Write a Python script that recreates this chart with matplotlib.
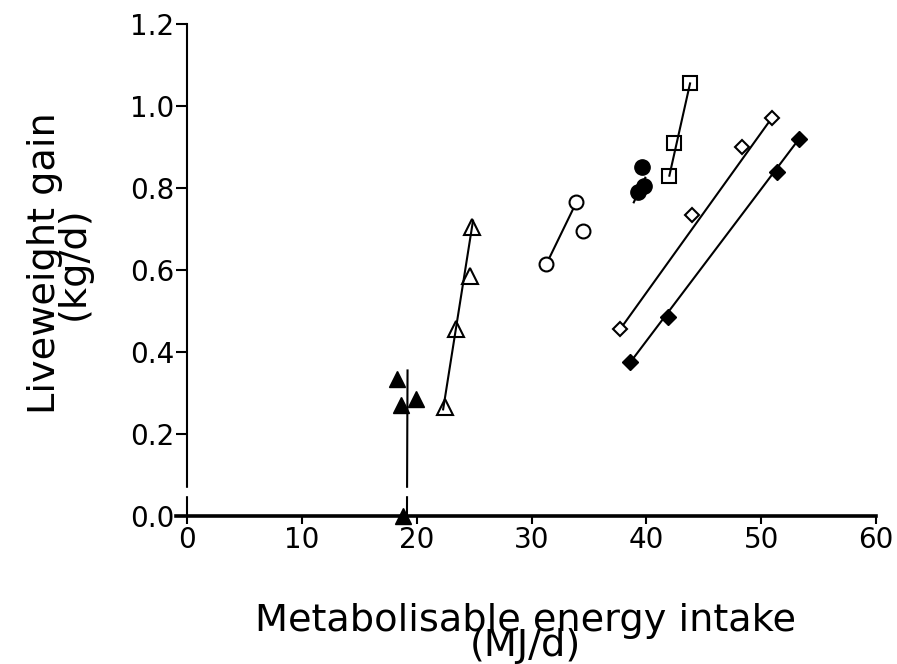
import matplotlib
matplotlib.use("Agg")
import matplotlib.pyplot as plt

# Filled triangles
ftri_x = [18.3, 18.6, 19.9, 18.8]
ftri_y = [0.335, 0.27, 0.285, 0.0]
ftri_line_x = [19.15, 19.2]
ftri_line_y = [0.0, 0.355]

# Open triangles
otri_x = [22.5, 23.4, 24.6, 24.8]
otri_y = [0.265, 0.455, 0.585, 0.705]
otri_line_x = [22.3, 24.9]
otri_line_y = [0.26, 0.72]

# Open circles
ocir_x = [31.3, 33.9, 34.5]
ocir_y = [0.615, 0.765, 0.695]
ocir_line_x = [31.3, 33.9]
ocir_line_y = [0.615, 0.765]

# Filled circles
fcir_x = [39.6, 39.3, 39.8]
fcir_y = [0.85, 0.79, 0.805]
fcir_line_x = [38.9, 39.9]
fcir_line_y = [0.765, 0.825]

# Open squares
osq_x = [42.0, 42.4, 43.8]
osq_y = [0.83, 0.91, 1.055]
osq_line_x = [42.0, 43.8]
osq_line_y = [0.83, 1.055]

# Open diamonds
odia_x = [37.7, 44.0, 48.3, 50.9]
odia_y = [0.455, 0.735, 0.90, 0.97]
odia_line_x = [37.7, 50.9]
odia_line_y = [0.455, 0.97]

# Filled diamonds
fdia_x = [38.6, 41.9, 51.4, 53.3]
fdia_y = [0.375, 0.485, 0.84, 0.92]
fdia_line_x = [38.6, 53.3]
fdia_line_y = [0.375, 0.92]

x_ticks = [0, 10, 20, 30, 40, 50, 60]
y_ticks = [0.0, 0.2, 0.4, 0.6, 0.8, 1.0, 1.2]

fig = plt.figure(figsize=(8.97, 6.64), dpi=100)
ax = fig.add_axes([0.1957, 0.2229, 0.781, 0.7410])

lw = 1.5
mew = 1.5
for lx, ly in [(ftri_line_x, ftri_line_y), (otri_line_x, otri_line_y),
               (ocir_line_x, ocir_line_y), (fcir_line_x, fcir_line_y),
               (osq_line_x, osq_line_y), (odia_line_x, odia_line_y),
               (fdia_line_x, fdia_line_y)]:
    ax.plot(lx, ly, color="black", lw=lw)

ax.plot(ftri_x, ftri_y, "^", color="black", ms=12, clip_on=False, zorder=4)
ax.plot(otri_x, otri_y, "^", mfc="none", mec="black", ms=11, mew=mew, zorder=4)
ax.plot(ocir_x, ocir_y, "o", mfc="white", mec="black", ms=10, mew=mew, zorder=4)
ax.plot(fcir_x, fcir_y, "o", color="black", ms=11, zorder=4)
ax.plot(osq_x, osq_y, "s", mfc="none", mec="black", ms=10.5, mew=mew, zorder=4)
ax.plot(odia_x, odia_y, "D", mfc="white", mec="black", ms=7.5, mew=mew, zorder=4)
ax.plot(fdia_x, fdia_y, "D", color="black", ms=8, zorder=4)

# axis break near zero
ax.axhspan(0.05, 0.068, color="white", zorder=3)

ax.set_xlim(-1, 60)
ax.set_ylim(0, 1.2)
ax.spines["top"].set_visible(False)
ax.spines["right"].set_visible(False)
ax.spines["left"].set_position(("data", 0))
ax.spines["left"].set_linewidth(1.5)
ax.spines["bottom"].set_linewidth(2.6)
ax.set_xticks(x_ticks)
ax.set_yticks(y_ticks)
ax.set_yticklabels([f"{v:.1f}" for v in y_ticks])
ax.tick_params(axis="both", direction="out", length=8, width=1.5, labelsize=20)
ax.tick_params(axis="y", pad=1)
ax.tick_params(axis="x", pad=1, length=6)

ax.set_xlabel("Metabolisable energy intake\n(MJ/d)", fontsize=27.5, linespacing=0.62)
ax.xaxis.set_label_coords(0.5, -0.176)
ax.set_ylabel("Liveweight gain\n(kg/d)", fontsize=27.5, linespacing=0.75)
ax.yaxis.set_label_coords(-0.119, 0.514)

fig.savefig("out.png", dpi=100)
